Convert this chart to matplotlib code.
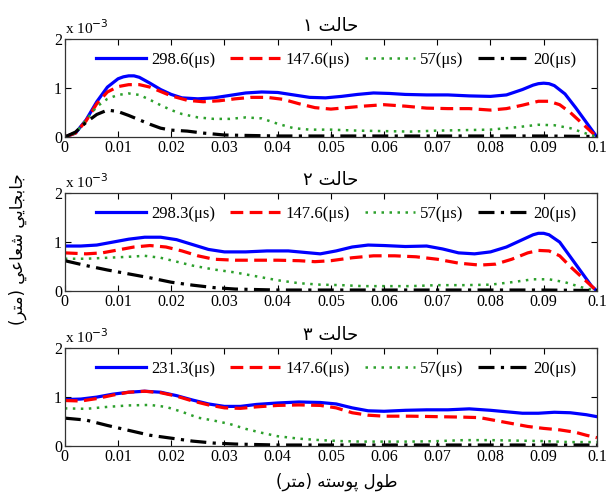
import numpy as np
import matplotlib
matplotlib.use("Agg")
import matplotlib.pyplot as plt

# values in units of 1e-3 m, x in m
x1_blue = [0, 0.002, 0.004, 0.006, 0.008, 0.010, 0.011, 0.012, 0.013, 0.014, 0.016, 0.018, 0.020, 0.022,
           0.025, 0.028, 0.031, 0.034, 0.037, 0.040, 0.043, 0.046, 0.049, 0.052, 0.055, 0.058, 0.061,
           0.064, 0.068, 0.072, 0.076, 0.080, 0.083, 0.086, 0.088, 0.089, 0.090, 0.091, 0.092, 0.094,
           0.096, 0.098, 0.100]
y1_blue = [0, 0.08, 0.35, 0.72, 1.02, 1.19, 1.23, 1.25, 1.25, 1.22, 1.10, 0.97, 0.87, 0.80,
           0.78, 0.80, 0.85, 0.90, 0.92, 0.91, 0.86, 0.81, 0.80, 0.83, 0.87, 0.90, 0.89,
           0.87, 0.86, 0.86, 0.84, 0.83, 0.86, 0.97, 1.06, 1.09, 1.10, 1.09, 1.05, 0.88,
           0.60, 0.30, 0.0]
x1_red = [0, 0.002, 0.004, 0.006, 0.008, 0.010, 0.012, 0.014, 0.016, 0.018, 0.020, 0.023, 0.026, 0.029,
          0.032, 0.035, 0.038, 0.041, 0.044, 0.047, 0.050, 0.053, 0.056, 0.060, 0.064, 0.068, 0.072,
          0.076, 0.080, 0.083, 0.086, 0.089, 0.091, 0.093, 0.095, 0.097, 0.099, 0.100]
y1_red = [0, 0.08, 0.33, 0.68, 0.92, 1.03, 1.07, 1.07, 1.02, 0.93, 0.84, 0.75, 0.72, 0.74,
          0.78, 0.81, 0.81, 0.77, 0.68, 0.60, 0.57, 0.60, 0.63, 0.66, 0.63, 0.59, 0.58,
          0.58, 0.55, 0.58, 0.65, 0.73, 0.73, 0.66, 0.50, 0.30, 0.10, 0.0]
x1_green = [0, 0.002, 0.004, 0.006, 0.008, 0.010, 0.012, 0.014, 0.016, 0.018, 0.020, 0.022, 0.025, 0.028,
            0.031, 0.034, 0.037, 0.040, 0.043, 0.046, 0.050, 0.055, 0.060, 0.065, 0.070, 0.075, 0.080,
            0.085, 0.089, 0.092, 0.095, 0.098, 0.100]
y1_green = [0, 0.08, 0.35, 0.62, 0.78, 0.86, 0.89, 0.86, 0.76, 0.65, 0.55, 0.47, 0.40, 0.37,
            0.37, 0.40, 0.38, 0.27, 0.18, 0.15, 0.15, 0.13, 0.12, 0.11, 0.13, 0.14, 0.15,
            0.20, 0.25, 0.24, 0.18, 0.07, 0.0]
x1_black = [0, 0.002, 0.004, 0.006, 0.008, 0.010, 0.012, 0.014, 0.016, 0.018, 0.020, 0.023, 0.026, 0.030,
            0.035, 0.040, 0.050, 0.060, 0.070, 0.080, 0.090, 0.100]
y1_black = [0, 0.10, 0.30, 0.46, 0.55, 0.52, 0.44, 0.35, 0.26, 0.18, 0.14, 0.12, 0.08, 0.04,
            0.03, 0.02, 0.02, 0.02, 0.02, 0.02, 0.02, 0.01]

x2_blue = [0, 0.003, 0.006, 0.009, 0.012, 0.015, 0.018, 0.021, 0.024, 0.027, 0.030, 0.034, 0.038, 0.042,
           0.045, 0.048, 0.051, 0.054, 0.057, 0.060, 0.064, 0.068, 0.071, 0.074, 0.077, 0.080, 0.083,
           0.086, 0.088, 0.089, 0.090, 0.091, 0.093, 0.095, 0.097, 0.099, 0.100]
y2_blue = [0.92, 0.92, 0.94, 1.00, 1.06, 1.10, 1.10, 1.05, 0.95, 0.85, 0.80, 0.80, 0.82, 0.82,
           0.79, 0.76, 0.82, 0.90, 0.94, 0.93, 0.91, 0.92, 0.86, 0.78, 0.76, 0.80, 0.90,
           1.05, 1.15, 1.18, 1.18, 1.15, 1.00, 0.70, 0.40, 0.10, 0.0]
x2_red = [0, 0.004, 0.007, 0.010, 0.013, 0.016, 0.019, 0.022, 0.025, 0.028, 0.032, 0.036, 0.040, 0.044,
          0.047, 0.050, 0.054, 0.058, 0.062, 0.066, 0.070, 0.074, 0.078, 0.081, 0.084, 0.087, 0.089,
          0.091, 0.093, 0.095, 0.097, 0.099, 0.100]
y2_red = [0.78, 0.76, 0.78, 0.84, 0.90, 0.93, 0.90, 0.82, 0.72, 0.65, 0.63, 0.63, 0.63, 0.62,
          0.60, 0.62, 0.68, 0.72, 0.72, 0.70, 0.65, 0.57, 0.53, 0.55, 0.65, 0.78, 0.83,
          0.82, 0.72, 0.50, 0.30, 0.10, 0.0]
x2_green = [0, 0.004, 0.008, 0.012, 0.015, 0.018, 0.021, 0.024, 0.028, 0.032, 0.036, 0.040, 0.044, 0.048,
            0.052, 0.056, 0.060, 0.065, 0.070, 0.075, 0.080, 0.084, 0.088, 0.091, 0.094, 0.097, 0.100]
y2_green = [0.66, 0.66, 0.68, 0.70, 0.72, 0.68, 0.60, 0.52, 0.44, 0.38, 0.30, 0.22, 0.16, 0.13,
            0.12, 0.10, 0.10, 0.10, 0.12, 0.12, 0.13, 0.18, 0.24, 0.24, 0.18, 0.08, 0.0]
x2_black = [0, 0.004, 0.008, 0.012, 0.016, 0.020, 0.024, 0.028, 0.032, 0.036, 0.040, 0.050, 0.060, 0.070,
            0.080, 0.090, 0.100]
y2_black = [0.62, 0.52, 0.43, 0.35, 0.27, 0.18, 0.12, 0.07, 0.04, 0.03, 0.02, 0.02, 0.02, 0.02,
            0.02, 0.02, 0.01]

x3_blue = [0, 0.003, 0.006, 0.009, 0.012, 0.015, 0.018, 0.021, 0.024, 0.027, 0.030, 0.033, 0.036, 0.040,
           0.044, 0.048, 0.051, 0.054, 0.057, 0.060, 0.064, 0.068, 0.072, 0.076, 0.080, 0.083, 0.086,
           0.089, 0.092, 0.095, 0.098, 0.100]
y3_blue = [0.95, 0.96, 1.00, 1.06, 1.10, 1.12, 1.10, 1.03, 0.94, 0.86, 0.81, 0.81, 0.85, 0.88,
           0.90, 0.89, 0.86, 0.78, 0.72, 0.71, 0.73, 0.74, 0.74, 0.76, 0.73, 0.70, 0.67,
           0.67, 0.69, 0.68, 0.64, 0.60]
x3_red = [0, 0.003, 0.006, 0.009, 0.012, 0.015, 0.018, 0.021, 0.024, 0.027, 0.030, 0.033, 0.036, 0.040,
          0.044, 0.048, 0.051, 0.054, 0.057, 0.060, 0.065, 0.070, 0.075, 0.078, 0.081, 0.084, 0.087,
          0.090, 0.093, 0.096, 0.098, 0.100]
y3_red = [0.93, 0.92, 0.97, 1.04, 1.10, 1.12, 1.09, 1.02, 0.92, 0.84, 0.78, 0.77, 0.80, 0.83,
          0.84, 0.83, 0.78, 0.68, 0.63, 0.61, 0.61, 0.60, 0.59, 0.58, 0.52, 0.46, 0.40,
          0.36, 0.33, 0.28, 0.22, 0.17]
x3_green = [0, 0.004, 0.008, 0.012, 0.016, 0.019, 0.022, 0.025, 0.028, 0.031, 0.034, 0.037, 0.040, 0.044,
            0.048, 0.052, 0.056, 0.060, 0.065, 0.070, 0.075, 0.080, 0.085, 0.090, 0.095, 0.100]
y3_green = [0.77, 0.76, 0.80, 0.83, 0.84, 0.80, 0.70, 0.58, 0.52, 0.45, 0.35, 0.27, 0.20, 0.15,
            0.12, 0.10, 0.09, 0.09, 0.09, 0.10, 0.12, 0.12, 0.11, 0.10, 0.08, 0.08]
x3_black = [0, 0.004, 0.008, 0.012, 0.016, 0.020, 0.024, 0.028, 0.032, 0.036, 0.040, 0.050, 0.060, 0.070,
            0.080, 0.090, 0.100]
y3_black = [0.57, 0.53, 0.42, 0.32, 0.22, 0.16, 0.10, 0.06, 0.04, 0.03, 0.02, 0.02, 0.02, 0.02,
            0.02, 0.02, 0.02]

legend_labels = [
    ["298.6(μs)", "147.6(μs)", "57(μs)", "20(μs)"],
    ["298.3(μs)", "147.6(μs)", "57(μs)", "20(μs)"],
    ["231.3(μs)", "147.6(μs)", "57(μs)", "20(μs)"],
]
xticks = [0, 0.01, 0.02, 0.03, 0.04, 0.05, 0.06, 0.07, 0.08, 0.09, 0.1]
xticklabels = ["0", "0.01", "0.02", "0.03", "0.04", "0.05", "0.06", "0.07", "0.08", "0.09", "0.1"]

# Persian text written in visual order with presentation forms (no shaping in mpl)
hal = "\uFE96\uFEDF\uFE8E\uFEA3"           # حالت
titles = ["\u06F1 " + hal, "\u06F2 " + hal, "\u06F3 " + hal]
xlabel = "(\uFEAE\uFE98\uFEE3) \uFEEA\uFE98\uFEB3\uFEEE\uFB58 \uFEDD\uFEEE\uFEC3"        # طول پوسته (متر)
ylabel = ("(\uFEAE\uFE98\uFEE3) \uFEF2\uFECB\uFE8E\uFECC\uFEB7 "
          "\uFEF2\uFEF3\uFE8E\uFEA0\uFE91\uFE8E\uFE9F")                                 # جابجايي شعاعي (متر)

series = [
    [(x1_blue, y1_blue), (x1_red, y1_red), (x1_green, y1_green), (x1_black, y1_black)],
    [(x2_blue, y2_blue), (x2_red, y2_red), (x2_green, y2_green), (x2_black, y2_black)],
    [(x3_blue, y3_blue), (x3_red, y3_red), (x3_green, y3_green), (x3_black, y3_black)],
]
styles = [
    dict(color="#0000ff", lw=2.3, ls="-"),
    dict(color="#ff0000", lw=2.3, dashes=(4, 2)),
    dict(color="#2ca02c", lw=1.8, dashes=(1, 2.2)),
    dict(color="#000000", lw=2.3, dashes=(5, 2, 1, 2)),
]

serif = "Liberation Serif"
fig = plt.figure(figsize=(6.06, 4.99), dpi=100)
bottoms = [0.7255, 0.4168, 0.1062]

for i in range(3):
    ax = fig.add_axes([0.107, bottoms[i], 0.878, 0.196])
    for (xs, ys), st, lab in zip(series[i], styles, legend_labels[i]):
        ax.plot(xs, ys, label=lab, solid_joinstyle="round", **st)
    ax.set_xlim(0, 0.1)
    ax.set_ylim(0, 2)
    ax.set_xticks(xticks)
    ax.set_xticklabels(xticklabels, family=serif, fontsize=11.5)
    ax.set_yticks([0, 1, 2])
    ax.set_yticklabels(["0", "1", "2"], family=serif, fontsize=11.5)
    ax.tick_params(direction="in", top=True, right=True, length=4, width=0.8, pad=2)
    for sp in ax.spines.values():
        sp.set_linewidth(0.9)
        sp.set_color("#333333")
    ax.text(0.0, 1.02, r"x 10$^{-3}$", transform=ax.transAxes, ha="left", va="bottom",
            family=serif, fontsize=11)
    ax.set_title(titles[i], family="DejaVu Sans", fontsize=13, pad=6)
    ax.legend(loc="center", bbox_to_anchor=(0.51, 0.785), ncol=4, frameon=False,
              prop={"family": serif, "size": 12}, handlelength=3.0, handletextpad=0.3,
              columnspacing=0.9, borderaxespad=0)

fig.text(0.555, 0.035, xlabel, ha="center", va="center", family="DejaVu Sans", fontsize=12)
fig.text(0.03, 0.5, ylabel, ha="center", va="center", rotation=90, family="DejaVu Sans", fontsize=12)

fig.savefig("out.png", dpi=100)
